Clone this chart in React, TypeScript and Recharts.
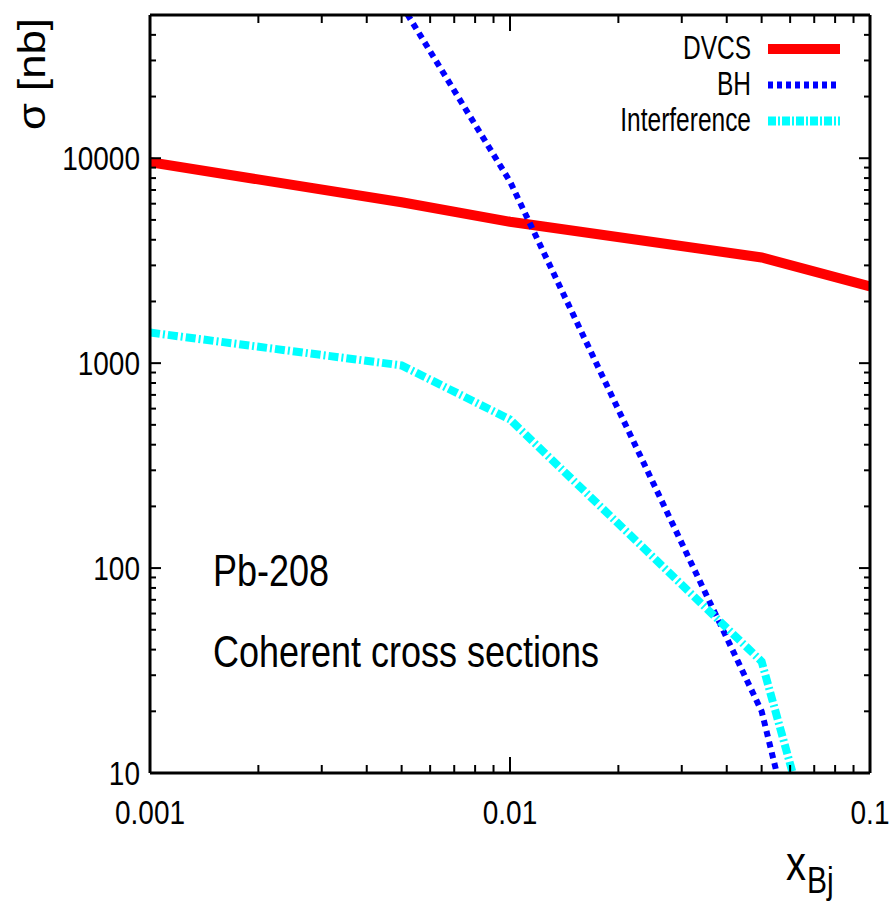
import React from 'react';
import { LineChart, Line, XAxis, YAxis } from 'recharts';

// x_Bj grid points where the curves were computed
const xPoints = [0.001, 0.005, 0.01, 0.05, 0.1];
const dvcsValues = [9560, 6100, 4900, 3280, 2370];
const bhX = [0.005, 0.01, 0.05, 0.1];
const bhValues = [56000, 7700, 20, 0.14];
const interferenceValues = [1410, 975, 531, 35, 0.44];

const xTicks = [0.001, 0.002, 0.003, 0.004, 0.005, 0.006, 0.007, 0.008, 0.009,
  0.01, 0.02, 0.03, 0.04, 0.05, 0.06, 0.07, 0.08, 0.09, 0.1];
const yTicks = [10, 20, 30, 40, 50, 60, 70, 80, 90, 100, 200, 300, 400, 500, 600, 700, 800, 900,
  1000, 2000, 3000, 4000, 5000, 6000, 7000, 8000, 9000, 10000, 20000, 30000, 40000];
const xLabels: Record<string, string> = { '0.001': '0.001', '0.01': '0.01', '0.1': '0.1' };
const yLabels: Record<string, string> = { '10': '10', '100': '100', '1000': '1000', '10000': '10000' };

const legendItems = [
  { name: 'DVCS', color: '#ff0000', width: 10, dash: undefined as string | undefined },
  { name: 'BH', color: '#0000ff', width: 7, dash: '5 4' },
  { name: 'Interference', color: '#00ffff', width: 9, dash: '8 2 2 2' },
];

const dvcsData = xPoints.map((x, i) => ({ x, y: dvcsValues[i] }));
const bhData = bhX.map((x, i) => ({ x, y: bhValues[i] }));
const interferenceData = xPoints.map((x, i) => ({ x, y: interferenceValues[i] }));

const font = "'Liberation Sans', Arial, sans-serif";
const isMajor = (v: number) => Math.abs(Math.log10(v) - Math.round(Math.log10(v))) < 1e-6;

const BottomTick = (props: any) => {
  const { x, y, payload } = props;
  const major = isMajor(payload.value);
  const label = xLabels[String(payload.value)];
  return (
    <g>
      <line x1={x} x2={x} y1={y} y2={y - (major ? 16 : 8)} stroke="#000" strokeWidth={2} />
      {label && (
        <text transform={`translate(${x},${y + 51}) scale(1,1.2)`} textAnchor="middle"
          fontSize={28} fontFamily={font} fill="#000">{label}</text>
      )}
    </g>
  );
};

const TopTick = (props: any) => {
  const { x, y, payload } = props;
  const major = isMajor(payload.value);
  return <line x1={x} x2={x} y1={y} y2={y + (major ? 16 : 8)} stroke="#000" strokeWidth={2} />;
};

const LeftTick = (props: any) => {
  const { x, y, payload } = props;
  const major = isMajor(payload.value);
  const label = yLabels[String(payload.value)];
  return (
    <g>
      <line x1={x} x2={x + (major ? 11 : 6)} y1={y} y2={y} stroke="#000" strokeWidth={2} />
      {label && (
        <text transform={`translate(${x - 10},${y + 12}) scale(1,1.2)`} textAnchor="end"
          fontSize={28} fontFamily={font} fill="#000">{label}</text>
      )}
    </g>
  );
};

const RightTick = (props: any) => {
  const { x, y, payload } = props;
  const major = isMajor(payload.value);
  return <line x1={x} x2={x - (major ? 11 : 6)} y1={y} y2={y} stroke="#000" strokeWidth={2} />;
};

const Overlay = () => (
  <svg width={894} height={902} style={{ position: 'absolute', left: 0, top: 0, pointerEvents: 'none' }}>
    {legendItems.map((item, i) => {
      const cy = [49, 85, 121][i];
      return (
        <g key={item.name}>
          <text transform={`translate(751,${cy + 10}) scale(1,1.35)`} textAnchor="end"
            fontSize={24.5} fontFamily={font} fill="#000">{item.name}</text>
          <line x1={768} x2={840} y1={cy} y2={cy} stroke={item.color}
            strokeWidth={item.width} strokeDasharray={item.dash} />
        </g>
      );
    })}
    <text transform="translate(213,586) scale(1,1.22)" fontSize={36} fontFamily={font} fill="#000">Pb-208</text>
    <text transform="translate(213,667) scale(1,1.22)" fontSize={36} fontFamily={font} fill="#000">Coherent cross sections</text>
    <text transform="translate(45,130) rotate(-90) scale(1.15,1)" fontSize={38} fontFamily={font} fill="#000">σ [nb]</text>
    <text transform="translate(786,880) scale(1,1.2)" fontSize={40} fontFamily={font} fill="#000">x</text>
    <text transform="translate(807,893) scale(1,1.2)" fontSize={30} fontFamily={font} fill="#000">Bj</text>
  </svg>
);

export default function App() {
  return (
    <div style={{ position: 'absolute', left: 0, top: 0, width: 894, height: 902, background: '#fff' }}>
      <LineChart width={894} height={902} margin={{ top: 10, right: 19, bottom: 89, left: 90 }}>
        <XAxis dataKey="x" type="number" scale="log" domain={[0.001, 0.1]} allowDataOverflow
          ticks={xTicks} tick={<BottomTick />} tickLine={false} tickSize={0} tickMargin={0}
          height={40} interval={0} axisLine={{ stroke: '#000', strokeWidth: 3 }} />
        <XAxis xAxisId="top" orientation="top" dataKey="x" type="number" scale="log" domain={[0.001, 0.1]}
          allowDataOverflow ticks={xTicks} tick={<TopTick />} tickLine={false} tickSize={0} tickMargin={0}
          height={5} interval={0} axisLine={{ stroke: '#000', strokeWidth: 3 }} />
        <YAxis type="number" scale="log" domain={[10, 50000]} allowDataOverflow ticks={yTicks}
          tick={<LeftTick />} tickLine={false} tickSize={0} tickMargin={0} width={60} interval={0}
          axisLine={{ stroke: '#000', strokeWidth: 3 }} />
        <YAxis yAxisId="right" orientation="right" type="number" scale="log" domain={[10, 50000]}
          allowDataOverflow ticks={yTicks} tick={<RightTick />} tickLine={false} tickSize={0} tickMargin={0}
          width={5} interval={0} axisLine={{ stroke: '#000', strokeWidth: 3 }} />
        <Line data={dvcsData} dataKey="y" name="DVCS" type="linear" stroke="#ff0000" strokeWidth={10}
          dot={false} isAnimationActive={false} />
        <Line data={bhData} dataKey="y" name="BH" type="linear" stroke="#0000ff" strokeWidth={6}
          strokeDasharray="6 5" dot={false} isAnimationActive={false} />
        <Line data={interferenceData} dataKey="y" name="Interference" type="linear" stroke="#00ffff"
          strokeWidth={8} strokeDasharray="10 3 2 3" dot={false} isAnimationActive={false} />
      </LineChart>
      <Overlay />
    </div>
  );
}
